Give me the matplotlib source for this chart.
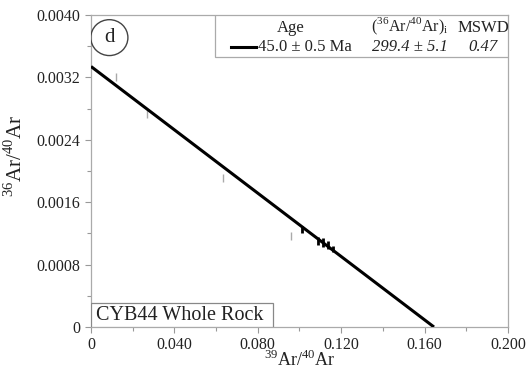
#!/usr/bin/env python3
# Inverse isochron plot, CYB44 whole rock (panel d)
import numpy as np
import matplotlib
matplotlib.use('Agg')
import matplotlib.pyplot as plt
from matplotlib.patches import Ellipse, Rectangle
from matplotlib.lines import Line2D

plt.rcParams['font.family'] = ['Liberation Serif', 'DejaVu Serif']
plt.rcParams['mathtext.fontset'] = 'custom'
plt.rcParams['mathtext.rm'] = 'Liberation Serif'

# isochron fit
y_intercept = 0.00334
x_intercept = 0.1645

# low-temperature steps (faint grey ellipses)
grey_x = [0.0120, 0.0268, 0.0633, 0.0960]
grey_y = [0.00321, 0.00273, 0.00191, 0.00117]
grey_err = [0.00005, 0.00005, 0.00005, 0.00005]

# plateau steps (black)
step_x = [0.1012, 0.1089, 0.1113, 0.1137, 0.1160]
step_y = [0.00125, 0.00110, 0.00108, 0.00105, 0.00100]
step_err = [0.00005, 0.00005, 0.00006, 0.00005, 0.00004]

x_ticks = [0, 0.04, 0.08, 0.12, 0.16, 0.20]
x_labels = ['0', '0.040', '0.080', '0.120', '0.160', '0.200']
y_ticks = [0, 0.0008, 0.0016, 0.0024, 0.0032, 0.0040]
y_labels = ['0', '0.0008', '0.0016', '0.0024', '0.0032', '0.0040']

fig = plt.figure(figsize=(5.27, 3.71), dpi=100)
ax = fig.add_axes([91/527, 1 - 327/371, (508 - 91)/527, (327 - 15)/371])
ax.set_xlim(0, 0.2)
ax.set_ylim(0, 0.004)

# fitted line
fit_x = np.array([0, x_intercept])
fit_y = y_intercept * (1 - fit_x / x_intercept)
ax.plot(fit_x, fit_y, color='black', lw=2.2, solid_capstyle='butt', zorder=3)

ax.errorbar(grey_x, grey_y, yerr=grey_err, fmt='none', ecolor='#aaaaaa',
            elinewidth=1.0, capsize=0, zorder=2)
ax.errorbar(step_x, step_y, yerr=step_err, fmt='none', ecolor='black',
            elinewidth=2.0, capsize=0, zorder=4)

ax.set_xticks(x_ticks)
ax.set_xticklabels(x_labels)
ax.set_yticks(y_ticks)
ax.set_yticklabels(y_labels)
ax.set_xticks(np.arange(0.02, 0.2, 0.04), minor=True)
ax.set_yticks(np.arange(0.0004, 0.004, 0.0008), minor=True)
ax.tick_params(which='both', direction='out', colors='#999999',
               labelcolor='#222222', labelsize=11.5)
ax.tick_params(which='major', length=4, width=0.8)
ax.tick_params(which='minor', length=3, width=0.8)
for s in ax.spines.values():
    s.set_color('#aaaaaa')
    s.set_linewidth(0.9)

ax.set_xlabel(r'$^{39}$Ar/$^{40}$Ar', fontsize=13, color='#222222')
ax.xaxis.set_label_coords(0.5, -0.072, transform=ax.transAxes)
ax.xaxis.label.set_va('top')
ax.set_ylabel(r'$^{36}$Ar/$^{40}$Ar', fontsize=15, color='#222222', labelpad=6)
ax.yaxis.set_label_coords(-0.155, 0.55)

# panel letter
ax.add_patch(Ellipse((0.0088, 0.00371), 0.0178, 0.00046, transform=ax.transData,
                     fill=False, ec='#444444', lw=1.0, zorder=5))
ax.text(0.0088, 0.00371, 'd', fontsize=15, ha='center', va='center',
        color='#222222')

# results box
tr = ax.transAxes
ax.add_patch(Rectangle((0.298, 0.865), 0.702, 0.135, transform=tr,
                       fill=True, fc='white', ec='#aaaaaa', lw=0.9, zorder=5))
ax.text(0.478, 0.958, 'Age', transform=tr, fontsize=12, ha='center',
        va='center', color='#222222', zorder=6)
ax.text(0.765, 0.962, r'($^{36}$Ar/$^{40}$Ar)$_{\rm i}$', transform=tr,
        fontsize=11.5, ha='center', va='center', color='#222222', zorder=6)
ax.text(0.940, 0.958, 'MSWD', transform=tr, fontsize=12, ha='center',
        va='center', color='#222222', zorder=6)
ax.add_line(Line2D([0.335, 0.395], [0.898, 0.898], transform=tr, color='black',
                   lw=2.2, zorder=6))
ax.text(0.400, 0.898, '45.0 ± 0.5 Ma', transform=tr, fontsize=12,
        ha='left', va='center', color='#222222', zorder=6)
ax.text(0.765, 0.898, '299.4 ± 5.1', transform=tr, fontsize=12,
        style='italic', ha='center', va='center', color='#222222', zorder=6)
ax.text(0.940, 0.898, '0.47', transform=tr, fontsize=12, style='italic',
        ha='center', va='center', color='#222222', zorder=6)

# sample name box
ax.add_patch(Rectangle((0, 0), 0.437, 0.077, transform=tr, fill=True,
                       fc='white', ec='#888888', lw=0.9, zorder=5))
ax.text(0.012, 0.036, 'CYB44 Whole Rock', transform=tr, fontsize=14.5,
        ha='left', va='center', color='#222222', zorder=6)

fig.savefig('out.png', dpi=100)
